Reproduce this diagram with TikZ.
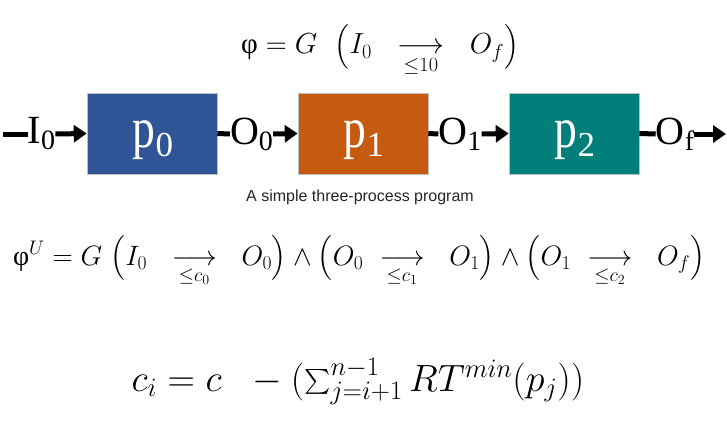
\RequirePackage{fix-cm}
\documentclass[tikz,border=0pt]{standalone}
\usepackage{amsmath}
\usepackage{fontspec}
\usetikzlibrary{arrows.meta}
\newfontfamily\tnr{Liberation Serif}
\newfontfamily\lsans{Liberation Sans}
\definecolor{pblue}{HTML}{2F5597}
\definecolor{porange}{HTML}{C55A11}
\definecolor{pteal}{HTML}{007E79}
\newcommand{\lblt}[2]{{\tnr\fontsize{40}{40}\selectfont #1\raisebox{-6pt}{\fontsize{28}{28}\selectfont #2}}}
\newcommand{\ptxt}[1]{{\tnr\fontsize{57}{57}\selectfont \scalebox{0.8}[1]{p}\raisebox{-9pt}{\fontsize{35}{35}\selectfont #1}}}
\newcommand{\phisym}{\text{\tnr φ}}
\newcommand{\arr}[1]{\mathrel{\underset{#1}{\longrightarrow}}}
\tikzset{
  proc/.style={draw=black!25, line width=0.6pt, minimum width=130pt, minimum height=81pt, inner sep=0pt},
  ptext/.style={inner sep=0pt, text=white, anchor=base},
  lbl/.style={inner sep=0pt, text=black},
  wire/.style={line width=5pt, black},
  arrw/.style={line width=5pt, black, -{Triangle[length=13pt,width=17pt]}},
  fml/.style={inner sep=0pt, anchor=base, font=\fontsize{29}{34}\selectfont}
}
\begin{document}
\begin{tikzpicture}[x=1pt,y=-1pt]
\path[use as bounding box, fill=white] (0,0) rectangle (727,425);
% formula 1
\node[fml] (f1) at (380,54) {$\phisym = G\ \ \bigl(I_0\ \ \arr{\le 10}\ \ O_f\bigr)$};
% processes
\node[proc, fill=pblue] (p0) at (152,133.5) {};
\node[proc, fill=porange] (p1) at (363,133.5) {};
\node[proc, fill=pteal] (p2) at (574,133.5) {};
\node[ptext] (t0) at (153,147) {\ptxt{0}};
\node[ptext] (t1) at (364,147) {\ptxt{1}};
\node[ptext] (t2) at (575,147) {\ptxt{2}};
% labels
\node[lbl] (i0) at (41.5,134) {\lblt{I}{0}};
\node[lbl] (o0) at (251.5,134) {\lblt{O}{0}};
\node[lbl] (o1) at (460,134) {\lblt{O}{1}};
\node[lbl] (of) at (675,134) {\lblt{O}{f}};
\coordinate (s) at (3,134);
\coordinate (e) at (726,134);
\draw[wire] (s) -- (i0.west);
\draw[arrw] (i0.east) -- (p0.west);
\draw[wire] (p0.east) -- (o0.west);
\draw[arrw] (o0.east) -- (p1.west);
\draw[wire] (p1.east) -- (o1.west);
\draw[arrw] (o1.east) -- (p2.west);
\draw[wire] (p2.east) -- (of.west);
\draw[arrw] (of.east) -- (e);
% caption
\node[inner sep=0pt, font=\lsans\fontsize{16}{18}\selectfont, text=black!85] (cap) at (360,197) {A simple three-process program};
% formula 2
\node[fml, font=\fontsize{28}{33}\selectfont] (f2) at (359,265) {$\phisym^U = G\ \bigl(I_0\ \ \arr{\le c_0}\ \ O_0\bigr) \land \bigl(O_0\ \arr{\le c_1}\ \ O_1\bigr) \land \bigl(O_1\ \arr{\le c_2}\ \ O_f\bigr)$};
% formula 3
\node[fml, font=\fontsize{38}{44}\selectfont] (f3) at (358,391) {$c_i = c\ \ - (\textstyle\sum_{j=i+1}^{n-1} RT^{min}(p_j))$};
\end{tikzpicture}
\end{document}
